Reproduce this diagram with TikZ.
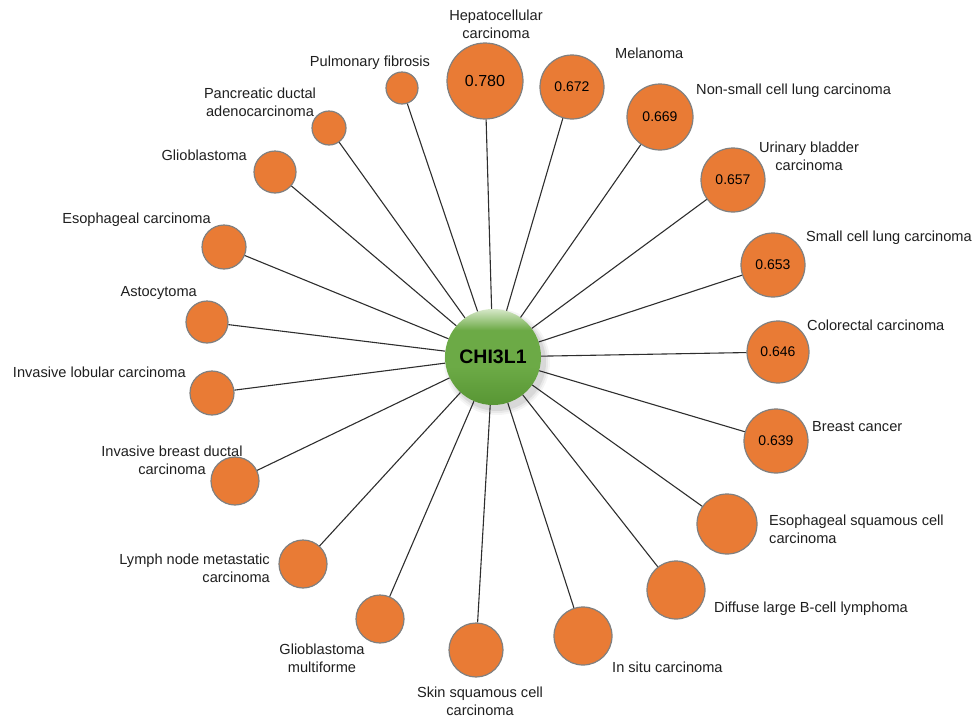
\documentclass[tikz,border=0pt]{standalone}
\usepackage{fontspec}
\setmainfont{Liberation Sans}
\definecolor{dotfill}{RGB}{233,123,53}
\definecolor{dotline}{RGB}{128,128,128}
\definecolor{gtop}{RGB}{214,232,200}
\definecolor{gmid}{RGB}{108,170,70}
\definecolor{gbot}{RGB}{88,150,52}
\pgfdeclareverticalshading{ballg}{100bp}{color(0bp)=(gbot); color(25bp)=(gbot); color(45bp)=(gmid); color(64bp)=(gmid); color(75bp)=(gtop); color(100bp)=(gtop)}
\tikzset{
  dot/.style={circle, fill=dotfill, draw=dotline, line width=1.2pt, inner sep=0pt, font=\fontsize{14}{16}\selectfont},
  lbl/.style={font=\fontsize{14.6}{18}\selectfont, inner sep=0pt, text=black!88},
  link/.style={draw=black!82, line width=1.1pt},
}
\begin{document}
\begin{tikzpicture}[x=1pt,y=-1pt]
\useasboundingbox (0,0) rectangle (974,718);
% soft shadow of the hub
\foreach \o/\r in {0.07/49, 0.05/51, 0.04/53} {
  \fill[black, opacity=\o] (497,362) circle (\r);
}
\node[circle, minimum size=96pt, inner sep=0pt, shading=ballg, font=\fontsize{19.5}{22}\bfseries\selectfont] (c) at (493,357) {CHI3L1};

\node[dot, minimum size=76pt, font=\fontsize{16}{18}\selectfont] (hep) at (485,81) {0.780};
\node[dot, minimum size=64pt] (mel) at (572,87) {0.672};
\node[dot, minimum size=66pt] (nsc) at (660,117) {0.669};
\node[dot, minimum size=64pt] (ubc) at (733,180) {0.657};
\node[dot, minimum size=64pt] (scl) at (773,265) {0.653};
\node[dot, minimum size=62pt] (col) at (778,352) {0.646};
\node[dot, minimum size=64pt] (brc) at (776,441) {0.639};
\node[dot, minimum size=60pt] (esq) at (727,524) {};
\node[dot, minimum size=58pt] (dlb) at (676,590) {};
\node[dot, minimum size=58pt] (isc) at (583,636) {};
\node[dot, minimum size=54pt] (ssc) at (476,650) {};
\node[dot, minimum size=48pt] (gbm) at (380,619) {};
\node[dot, minimum size=48pt] (lnm) at (303,564) {};
\node[dot, minimum size=48pt] (ibd) at (235,481) {};
\node[dot, minimum size=44pt] (ilc) at (212,393) {};
\node[dot, minimum size=42pt] (ast) at (207,322) {};
\node[dot, minimum size=44pt] (eca) at (224,247) {};
\node[dot, minimum size=42pt] (gli) at (275,172) {};
\node[dot, minimum size=34pt] (pan) at (329,128) {};
\node[dot, minimum size=32pt] (pul) at (402,88) {};

\foreach \n in {hep,mel,nsc,ubc,scl,col,brc,esq,dlb,isc,ssc,gbm,lnm,ibd,ilc,ast,eca,gli,pan,pul} {
  \draw[link] (c) -- (\n);
}

\node[lbl, align=center] (lhep) at (496,24) {Hepatocellular\\carcinoma};
\node[lbl, anchor=west] (lmel) at (615,53) {Melanoma};
\node[lbl, anchor=west] (lnsc) at (696,91) {Non-small cell lung carcinoma};
\node[lbl, align=center] (lubc) at (809,156) {Urinary bladder\\carcinoma};
\node[lbl, anchor=west] (lscl) at (806,238) {Small cell lung carcinoma};
\node[lbl, anchor=west] (lcol) at (807,325) {Colorectal carcinoma};
\node[lbl, anchor=west] (lbrc) at (812,427) {Breast cancer};
\node[lbl, anchor=west, align=left] (lesq) at (769,529) {Esophageal squamous cell\\carcinoma};
\node[lbl, anchor=west] (ldlb) at (714,609) {Diffuse large B-cell lymphoma};
\node[lbl, anchor=west] (lisc) at (612,667) {In situ carcinoma};
\node[lbl, align=center] (lssc) at (480,701) {Skin squamous cell\\carcinoma};
\node[lbl, align=center] (lgbm) at (322,658) {Glioblastoma\\multiforme};
\node[lbl, anchor=east, align=right] (llnm) at (270,568) {Lymph node metastatic\\carcinoma};
\node[lbl, align=center] (libd) at (172,460) {Invasive breast ductal\\carcinoma};
\node[lbl, anchor=east] (lilc) at (186,372) {Invasive lobular carcinoma};
\node[lbl, anchor=east] (last) at (197,293) {Astocytoma};
\node[lbl, anchor=east] (leca) at (211,220) {Esophageal carcinoma};
\node[lbl, anchor=east] (lgli) at (247,155) {Glioblastoma};
\node[lbl, align=center] (lpan) at (260,102) {Pancreatic ductal\\adenocarcinoma};
\node[lbl] (lpul) at (370,63) {Pulmonary fibrosis};
\end{tikzpicture}
\end{document}
